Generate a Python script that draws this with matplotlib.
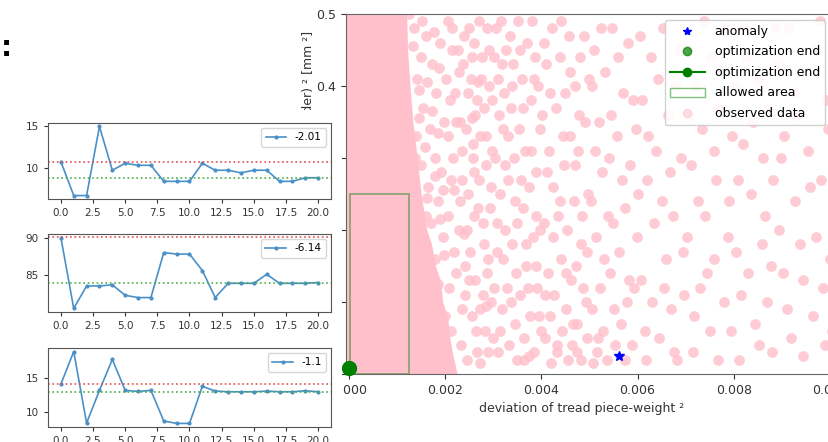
import matplotlib.pyplot as plt
from matplotlib.patches import Rectangle
from matplotlib.lines import Line2D

# ---- small convergence plots (left) ----
steps = list(range(21))

run1 = [10.79, 6.73, 6.73, 15.0, 9.76, 10.59, 10.35, 10.35, 8.43, 8.43, 8.43,
        10.59, 9.76, 9.76, 9.45, 9.76, 9.76, 8.43, 8.43, 8.86, 8.86]
run2 = [90.0, 80.55, 83.55, 83.55, 83.7, 82.3, 82.0, 82.0, 88.0, 87.8, 87.8,
        85.6, 82.0, 83.9, 83.9, 83.9, 85.1, 83.9, 83.9, 83.9, 84.0]
run3 = [14.1, 18.9, 8.4, 13.2, 17.75, 13.2, 13.05, 13.2, 8.7, 8.35, 8.35,
        13.8, 13.1, 13.0, 13.0, 13.0, 13.1, 13.0, 13.0, 13.15, 13.0]
run_labels = ['-2.01', '-6.14', '-1.1']
run_upper = [10.79, 90.1, 14.1]   # red dotted
run_lower = [8.86, 84.0, 12.95]   # green dotted

# ---- big scatter (right), x values in units of 1e-3 ----
# right edge of the saturated (solid) part of the observed data cloud
dense_y = [0.0, 0.03, 0.05, 0.08, 0.10, 0.13, 0.15, 0.18, 0.20, 0.25, 0.30, 0.35,
           0.40, 0.45, 0.50]
dense_edge = [2.25, 2.15, 2.1, 2.05, 1.95, 1.9, 1.8, 1.72, 1.62, 1.5, 1.42, 1.33,
              1.27, 1.22, 1.2]

observed = [
    (1.35, .48), (1.50, .44), (1.42, .41), (1.60, .47), (1.72, .43), (1.55, .37), (1.68, .34),
    (1.40, .33), (1.82, .39), (1.90, .46), (1.78, .30), (1.50, .29), (1.65, .26), (1.85, .24),
    (1.70, .21), (1.95, .19), (1.80, .16), (1.98, .35), (1.92, .28), (1.60, .22),
    (1.25, .50), (1.33, .455), (1.46, .395), (1.52, .49), (1.63, .405), (1.77, .475),
    (1.88, .425), (1.58, .315), (1.72, .365), (1.86, .335), (1.95, .255), (1.62, .245),
    (1.79, .275), (1.90, .215), (1.97, .165), (1.85, .125), (1.99, .08), (1.93, .045),
    (1.45, .355), (1.38, .30),
    (2.05, .49), (2.15, .45), (2.28, .42), (2.10, .38), (2.40, .47), (2.22, .35), (2.35, .31),
    (2.12, .27), (2.48, .39), (2.55, .44), (2.62, .36), (2.30, .24), (2.45, .20), (2.18, .17),
    (2.60, .28), (2.70, .49), (2.75, .41), (2.85, .33), (2.68, .23), (2.80, .18), (2.92, .45),
    (2.95, .26), (2.50, .13), (2.35, .09), (2.65, .06), (2.78, .11), (2.90, .03), (2.88, .14),
    (2.72, .015), (2.58, .32), (2.42, .15), (2.98, .38),
    (2.02, .41), (2.07, .33), (2.05, .22), (2.08, .12), (2.12, .06), (2.14, .48), (2.17, .30),
    (2.20, .39), (2.23, .14), (2.26, .45), (2.28, .20), (2.31, .35), (2.33, .04), (2.36, .27),
    (2.38, .43), (2.41, .11), (2.43, .34), (2.46, .02), (2.47, .25), (2.50, .48), (2.52, .17),
    (2.53, .41), (2.56, .08), (2.57, .30), (2.60, .22), (2.61, .46), (2.63, .13), (2.66, .38),
    (2.67, .03), (2.70, .27), (2.72, .33), (2.73, .09), (2.76, .44), (2.79, .21), (2.81, .37),
    (2.83, .06), (2.84, .29), (2.87, .48), (2.89, .16), (2.91, .40), (2.93, .23), (2.96, .10),
    (2.97, .31), (2.99, .05), (2.03, .01), (2.19, .255), (2.39, .195), (2.55, .355),
    (2.69, .405), (2.86, .095),
    (3.05, .48), (3.18, .43), (3.12, .36), (3.25, .29), (3.08, .21), (3.35, .47), (3.40, .40),
    (3.30, .33), (3.45, .24), (3.20, .16), (3.38, .10), (3.15, .06), (3.50, .02), (3.55, .45),
    (3.62, .37), (3.58, .27), (3.68, .18), (3.72, .12), (3.65, .05), (3.80, .49), (3.85, .41),
    (3.78, .31), (3.90, .22), (3.95, .08), (3.88, .15), (3.98, .34), (3.75, .025), (3.22, .39),
    (3.48, .14), (3.02, .12),
    (3.02, .44), (3.04, .30), (3.07, .17), (3.09, .03), (3.11, .41), (3.14, .25), (3.16, .49),
    (3.19, .09), (3.21, .34), (3.24, .20), (3.27, .45), (3.28, .12), (3.31, .27), (3.33, .04),
    (3.36, .37), (3.39, .18), (3.42, .43), (3.44, .30), (3.46, .07), (3.49, .21), (3.52, .49),
    (3.53, .34), (3.56, .11), (3.59, .41), (3.61, .23), (3.63, .02), (3.66, .31), (3.69, .15),
    (3.71, .46), (3.74, .26), (3.76, .08), (3.79, .38), (3.82, .19), (3.84, .03), (3.86, .44),
    (3.89, .28), (3.92, .12), (3.94, .40), (3.97, .20), (3.99, .06),
    (4.05, .46), (4.18, .39), (4.12, .28), (4.25, .19), (4.08, .11), (4.32, .04), (4.40, .49),
    (4.45, .33), (4.38, .24), (4.52, .14), (4.60, .42), (4.65, .07), (4.70, .29), (4.78, .36),
    (4.82, .18), (4.88, .47), (4.92, .10), (4.98, .25), (4.20, .015), (4.55, .02), (4.75, .03),
    (4.02, .36), (4.05, .21), (4.07, .05), (4.10, .43), (4.14, .14), (4.16, .31), (4.19, .08),
    (4.22, .48), (4.24, .26), (4.27, .11), (4.30, .37), (4.33, .03), (4.35, .22), (4.38, .44),
    (4.41, .16), (4.43, .06), (4.47, .29), (4.49, .39), (4.51, .09), (4.54, .20), (4.57, .47),
    (4.59, .33), (4.62, .13), (4.64, .04), (4.67, .24), (4.69, .40), (4.72, .15), (4.74, .07),
    (4.77, .31), (4.80, .44), (4.83, .02), (4.85, .22), (4.87, .12), (4.90, .35), (4.94, .05),
    (4.96, .17), (4.99, .41),
    (5.05, .40), (5.12, .31), (5.18, .05), (5.25, .48), (5.30, .16), (5.38, .22), (5.45, .36),
    (5.52, .09), (5.60, .44), (5.68, .27), (5.75, .02), (5.82, .13), (5.90, .38), (5.98, .19),
    (5.08, .015),
    (5.03, .24), (5.06, .09), (5.10, .45), (5.14, .19), (5.16, .03), (5.20, .35), (5.23, .12),
    (5.27, .28), (5.29, .06), (5.33, .42), (5.36, .02), (5.40, .30), (5.43, .14), (5.47, .48),
    (5.50, .21), (5.53, .04), (5.57, .33), (5.62, .17), (5.65, .07), (5.70, .39), (5.73, .23),
    (5.78, .10), (5.81, .46), (5.85, .29), (5.88, .04), (5.93, .12), (5.96, .34),
    (6.05, .47), (6.15, .06), (6.22, .33), (6.35, .21), (6.42, .41), (6.55, .12), (6.68, .28),
    (6.75, .03), (6.88, .45), (6.95, .17),
    (6.02, .25), (6.08, .13), (6.10, .38), (6.18, .02), (6.20, .27), (6.27, .44), (6.30, .10),
    (6.38, .31), (6.45, .05), (6.50, .24), (6.53, .48), (6.60, .16), (6.63, .36), (6.70, .09),
    (6.73, .22), (6.80, .40), (6.83, .02), (6.90, .30), (6.97, .11),
    (7.08, .36), (7.18, .08), (7.25, .24), (7.38, .49), (7.45, .14), (7.58, .31), (7.68, .02),
    (7.75, .42), (7.88, .19), (7.95, .06),
    (7.03, .19), (7.05, .45), (7.12, .29), (7.15, .03), (7.20, .40), (7.30, .12), (7.33, .34),
    (7.40, .22), (7.50, .06), (7.52, .44), (7.60, .16), (7.63, .27), (7.70, .37), (7.80, .10),
    (7.83, .48), (7.90, .24), (7.97, .33),
    (8.08, .27), (8.15, .11), (8.28, .44), (8.40, .35), (8.52, .04), (8.65, .22), (8.78, .15),
    (8.85, .48), (8.98, .30), (9.10, .09), (9.25, .39), (9.38, .18), (9.45, .025), (9.58, .26),
    (9.72, .45), (9.85, .12), (9.95, .34), (10.05, .06), (10.12, .21),
    (8.02, .40), (8.05, .17), (8.10, .02), (8.20, .32), (8.22, .48), (8.30, .14), (8.35, .25),
    (8.45, .07), (8.50, .41), (8.58, .18), (8.60, .30), (8.70, .10), (8.72, .37), (8.80, .03),
    (8.82, .27), (8.92, .43), (8.95, .20), (9.02, .14), (9.05, .33), (9.15, .48), (9.20, .05),
    (9.28, .24), (9.32, .36), (9.45, .13), (9.50, .42), (9.55, .31), (9.65, .08), (9.70, .19),
    (9.80, .49), (9.82, .27), (9.90, .04), (9.92, .38), (10.00, .16), (10.08, .44),
    (10.10, .29), (10.20, .10),
]
obs_x = [p[0] / 1000 for p in observed]
obs_y = [p[1] for p in observed]
dense_x = [v / 1000 for v in dense_edge]

anomaly = (0.00562, 0.025)
opt_end = (0.0, 0.008)
allowed_w, allowed_h = 0.00123, 0.25

W, H = 829, 442
fig = plt.figure(figsize=(W / 100, H / 100), dpi=100)

# big axes, its right part runs off the picture
ax = fig.add_axes([346 / W, 68 / H, 508 / W, 360 / H])
ax.set_xlim(-0.00006, 0.0105)
ax.set_ylim(0, 0.5)
x0 = ax.get_xlim()[0]
ax.fill_betweenx(dense_y, x0, dense_x, color='pink', lw=0, zorder=1)
ax.scatter(obs_x, obs_y, s=60, color='pink', alpha=0.8, lw=0, zorder=2)
ax.add_patch(Rectangle((0.00003, 0), allowed_w, allowed_h, fill=False,
                       edgecolor='green', alpha=0.45, lw=1.3, zorder=3))
ax.plot([anomaly[0]], [anomaly[1]], '*', color='blue', ms=7, zorder=5)
ax.scatter([opt_end[0]], [opt_end[1]], s=100, color='green', zorder=5, clip_on=False)
ax.plot([opt_end[0]], [opt_end[1]], 'o-', color='green', ms=6, zorder=6)

ax.set_xticks([0, 0.002, 0.004, 0.006, 0.008, 0.010])
ax.set_xticklabels(['0.000', '0.002', '0.004', '0.006', '0.008', '0.010'])
ax.set_yticks([0, 0.1, 0.2, 0.3, 0.4, 0.5])
ax.tick_params(labelsize=9, colors='#333333')
for sp in ax.spines.values():
    sp.set_color('#666666')
ax.set_xlabel('deviation of tread piece-weight ²', fontsize=9, color='#333333', x=0.463)
ax.set_ylabel('deviation of tread piece-contour (shoulder) ² [mm ²]', fontsize=9,
              color='#333333', labelpad=1)

handles = [
    Line2D([], [], marker='*', color='blue', ls='none', ms=6),
    Line2D([], [], marker='o', color='green', alpha=0.7, ls='none', ms=6),
    Line2D([], [], marker='o', color='green', ls='-', ms=6),
    Rectangle((0, 0), 1, 1, fill=False, edgecolor='green', alpha=0.5),
    Line2D([], [], marker='o', color='pink', alpha=0.5, ls='none', ms=6),
]
labels = ['anomaly', 'optimization end', 'optimization end', 'allowed area', 'observed data']
ax.legend(handles, labels, loc='upper right', bbox_to_anchor=(825 / W, 1 - 20 / H),
          bbox_transform=fig.transFigure, borderaxespad=0, fontsize=9,
          labelspacing=0.6, handlelength=2.8, framealpha=0.9)

# white sheet that the small plots sit on
fig.patches.append(Rectangle((0, 0), 342 / W, 332 / H, transform=fig.transFigure,
                             facecolor='white', edgecolor='none', zorder=1))
fig.text(0.001, 394 / H, ':', fontsize=20, fontweight='bold', va='center', zorder=2)

runs = [run1, run2, run3]
boxes = [(123, 199), (234, 312), (348, 427)]
for run, lab, up, lo, (top, bot) in zip(runs, run_labels, run_upper, run_lower, boxes):
    a = fig.add_axes([48 / W, (H - bot) / H, 283 / W, (bot - top) / H], zorder=3)
    a.plot(steps, run, '.-', color='#4a90c8', ms=4, lw=1.2, label=lab)
    a.axhline(up, color='#e05050', ls=':', lw=1.2)
    a.axhline(lo, color='#4cae4c', ls=':', lw=1.2)
    a.set_xticks([0, 2.5, 5, 7.5, 10, 12.5, 15, 17.5, 20])
    a.tick_params(labelsize=7.5, colors='#333333', length=3)
    for sp in a.spines.values():
        sp.set_color('#555555')
    a.legend(loc='upper right', fontsize=7.5)

fig.savefig('out.png', dpi=100)
